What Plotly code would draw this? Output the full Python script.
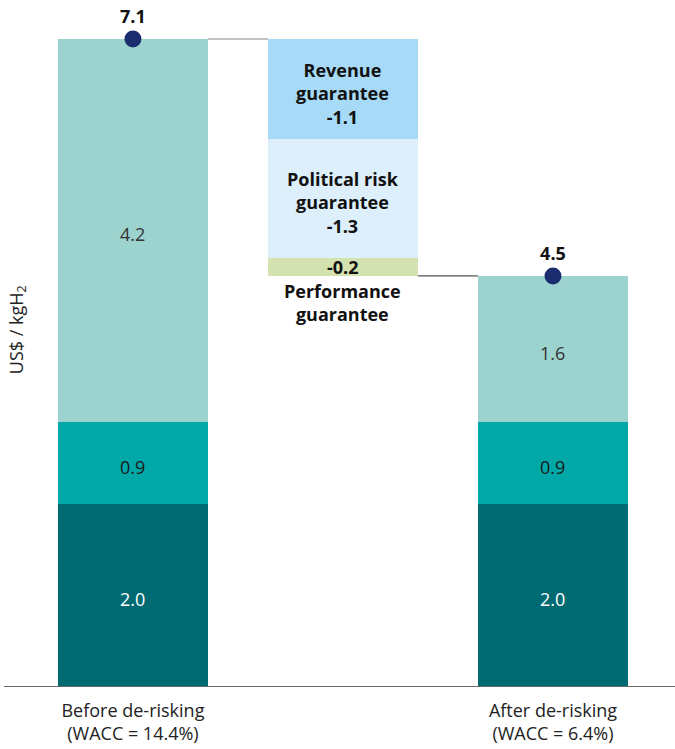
import plotly.graph_objects as go

# stack segments (bottom to top)
SEG_COLORS = ["#006A73", "#00A9A8", "#9DD3CE"]
SEG_TEXT = ["white", "#1a1a1a", "#333333"]
before = [2.0, 0.9, 4.2]
after = [2.0, 0.9, 1.6]
before_total = 7.1
after_total = 4.5

steps = ["Revenue<br>guarantee", "Political risk<br>guarantee", "Performance<br>guarantee"]
deltas = [-1.1, -1.3, -0.2]
STEP_COLORS = ["#A6DAF6", "#DDEFFB", "#D3E2B0"]

x_before, x_mid, x_after = 0, 1, 2
W = 0.714
FONT = "Open Sans, sans-serif"
FS = 18

fig = go.Figure()

# stacked columns
for i in range(3):
    b1 = sum(before[:i])
    b2 = sum(after[:i])
    fig.add_trace(go.Bar(
        x=[x_before, x_after], y=[before[i], after[i]], base=[b1, b2],
        width=W, marker=dict(color=SEG_COLORS[i], line=dict(width=0)),
        showlegend=False, hoverinfo="skip",
    ))
    for xx, base, v in [(x_before, b1, before[i]), (x_after, b2, after[i])]:
        fig.add_annotation(
            x=xx, y=base + v / 2, yshift=-4, showarrow=False, text=f"{v:.1f}",
            font=dict(family=FONT, size=FS, color=SEG_TEXT[i]),
        )

# waterfall steps
level = before_total
for i, d in enumerate(deltas):
    fig.add_trace(go.Bar(
        x=[x_mid], y=[-d], base=[level + d], width=W,
        marker=dict(color=STEP_COLORS[i], line=dict(width=0)),
        showlegend=False, hoverinfo="skip",
    ))
    mid = level + d / 2
    if i < 2:
        label = f"<b>{steps[i]}<br>{d:.1f}</b>"
        shift = -4
    else:
        label = f"<b>{d:.1f}</b>"
        shift = 0
        fig.add_annotation(
            x=x_mid, y=level + d, yanchor="top", yshift=-1, showarrow=False,
            text=f"<b>{steps[i]}</b>", font=dict(family=FONT, size=FS, color="#111111"),
        )
    fig.add_annotation(
        x=x_mid, y=mid, yshift=shift, showarrow=False, text=label,
        font=dict(family=FONT, size=FS, color="#111111"),
    )
    level += d

# connectors
fig.add_trace(go.Scatter(
    x=[x_before + W / 2, x_mid - W / 2], y=[before_total, before_total],
    mode="lines", line=dict(color="#888888", width=1.2),
    showlegend=False, hoverinfo="skip",
))
fig.add_trace(go.Scatter(
    x=[x_mid + W / 2, x_after - W / 2], y=[after_total, after_total],
    mode="lines", line=dict(color="#555555", width=1.2),
    showlegend=False, hoverinfo="skip",
))

# totals
fig.add_trace(go.Scatter(
    x=[x_before, x_after], y=[before_total, after_total],
    mode="markers+text", text=[f"<b>{before_total}</b>", f"<b>{after_total}</b>"],
    textposition="top center",
    textfont=dict(family=FONT, size=FS, color="#111111"),
    marker=dict(color="#1B2D6E", size=17),
    showlegend=False, hoverinfo="skip", cliponaxis=False,
))

fig.add_annotation(
    xref="paper", yref="paper", x=0.02, y=0.527, xanchor="center", yanchor="middle",
    textangle=-90, text="US$ / kgH<sub>2</sub>", showarrow=False,
    font=dict(family=FONT, size=FS, color="#222222"),
)

fig.update_layout(
    width=675, height=749,
    margin=dict(l=4, r=0, t=10, b=63),
    paper_bgcolor="white", plot_bgcolor="white",
    barmode="overlay", bargap=0,
    font=dict(family=FONT, color="#222222"),
    xaxis=dict(
        range=[-0.614, 2.581], showgrid=False, zeroline=False, fixedrange=True,
        showline=True, linecolor="#666666", linewidth=1.2,
        tickmode="array", tickvals=[x_before, x_after],
        ticktext=["Before de-risking<br>(WACC = 14.4%)", "After de-risking<br>(WACC = 6.4%)"],
        ticks="", ticklabelstandoff=8,
        tickfont=dict(family=FONT, size=FS, color="#222222"),
    ),
    yaxis=dict(range=[0, 7.418], showgrid=False, zeroline=False, fixedrange=True,
               showticklabels=False, showline=False),
)

fig.write_html("out.html", config={"displayModeBar": False},
               post_script="document.body.style.margin='0';")
